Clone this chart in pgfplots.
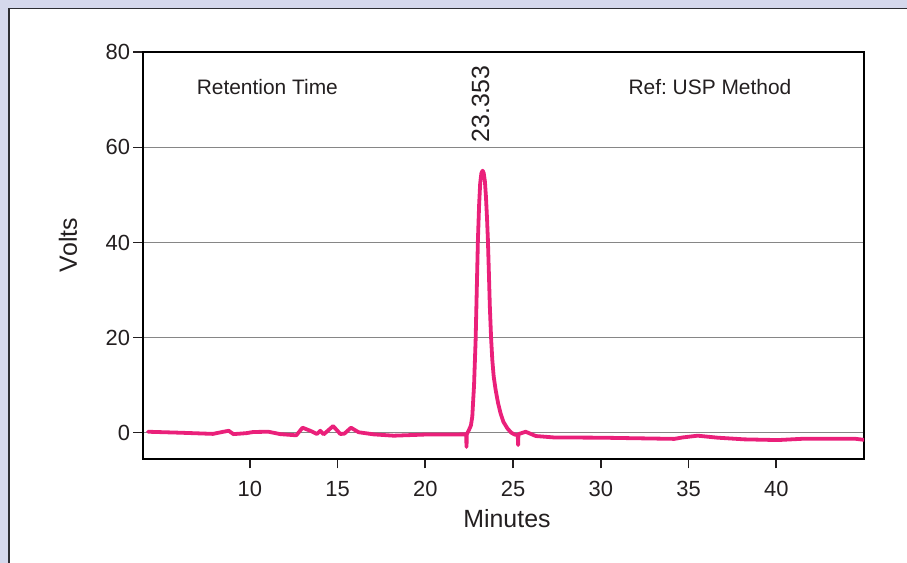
\documentclass[border=0pt]{standalone}
\usepackage{pgfplots}
\pgfplotsset{compat=1.18}
\usepackage{fontspec}
\setmainfont{Liberation Sans}
\frenchspacing
\definecolor{bglav}{RGB}{213,216,236}
\definecolor{framec}{RGB}{45,45,50}
\definecolor{txt}{RGB}{35,31,32}
\definecolor{pinkline}{RGB}{234,32,122}
\begin{document}
\begin{tikzpicture}[x=1bp,y=1bp]
\useasboundingbox (0,0) rectangle (907,563);
\fill[bglav] (0,0) rectangle (907,563);
\fill[white] (8,0) rectangle (907,554);
\draw[line width=1.5bp, color=framec] (8.75,0) -- (8.75,554.25) -- (907,554.25);
\begin{axis}[
  at={(142.7bp,104bp)}, anchor=south west,
  scale only axis, width=721.3bp, height=406.7bp,
  xmin=3.9, xmax=45.0, ymin=-5.53, ymax=80,
  xtick={10,15,...,40}, ytick={0,20,...,80},
  tick pos=left, tick align=outside,
  major tick length=9.5bp,
  every tick/.style={line width=1.6bp, color=txt},
  axis line style={line width=1.8bp, black},
  ymajorgrids, grid style={line width=1bp, color=gray!95},
  /pgf/number format/assume math mode=true,
  ticklabel style={font=\fontsize{22}{26}\selectfont, text=txt},
  yticklabel style={inner sep=0pt, xshift=-3bp},
  xticklabel style={inner sep=0pt, yshift=-13bp},
  xlabel={Minutes}, ylabel={Volts},
  xlabel style={at={(rel axis cs:0.505,-0.1475)}, anchor=center, inner sep=0pt, font=\fontsize{25}{30}\selectfont, text=txt},
  ylabel style={at={(rel axis cs:-0.1036,0.526)}, anchor=center, rotate=0, inner sep=0pt, font=\fontsize{25}{30}\selectfont, text=txt},
]
\addplot[pinkline, line width=3.8bp, line join=round, line cap=round] coordinates {
(4.2,0.2) (6.0,0.0) (7.9,-0.25) (8.5,0.2) (8.8,0.4) (9.07,-0.3) (9.8,-0.1)
(10.2,0.15) (11.07,0.2) (11.74,-0.3) (12.65,-0.55) (13.01,1.05) (13.45,0.4)
(13.83,-0.27) (14.02,0.4) (14.21,-0.35) (14.75,1.4) (15.16,-0.27) (15.39,-0.2)
(15.77,1.05) (16.2,0.1) (17.06,-0.35) (18.2,-0.63) (19.92,-0.4) (22.33,-0.35)
(22.35,-3.0) (22.37,-0.3) (22.48,0.5) (22.6,1.5) (22.68,3.4) (22.78,10)
(22.87,19.5) (23.0,40.5) (23.07,48) (23.13,52.5) (23.2,54.6) (23.27,55.1)
(23.33,54.6) (23.4,52.8) (23.46,49.5) (23.52,45) (23.57,40.5) (23.63,33)
(23.68,26.5) (23.75,20) (23.82,15.3) (23.9,11.8) (24.01,9) (24.15,6.2)
(24.29,4.1) (24.45,2.3) (24.68,0.9) (24.9,0.0) (25.1,-0.4)
(25.27,-0.5) (25.29,-2.6) (25.31,-0.3) (25.72,0.2) (26.3,-0.7) (27.34,-1.0)
(30,-1.05) (34.19,-1.3) (34.66,-1.0) (35.52,-0.63) (36.66,-1.05) (38.18,-1.4)
(40.09,-1.55) (41.6,-1.26) (44.46,-1.26) (45.0,-1.5)
};
\node[font=\fontsize{21}{25}\selectfont, text=txt, inner sep=0pt] at (axis cs:11.0,72.7) {Retention Time};
\node[font=\fontsize{21}{25}\selectfont, text=txt, inner sep=0pt] at (axis cs:36.22,72.7) {Ref: USP Method};
\node[font=\fontsize{25}{30}\selectfont, text=txt, inner sep=0pt, rotate=90] at (axis cs:23.15,69.1) {23.353};
\end{axis}
\end{tikzpicture}
\end{document}
